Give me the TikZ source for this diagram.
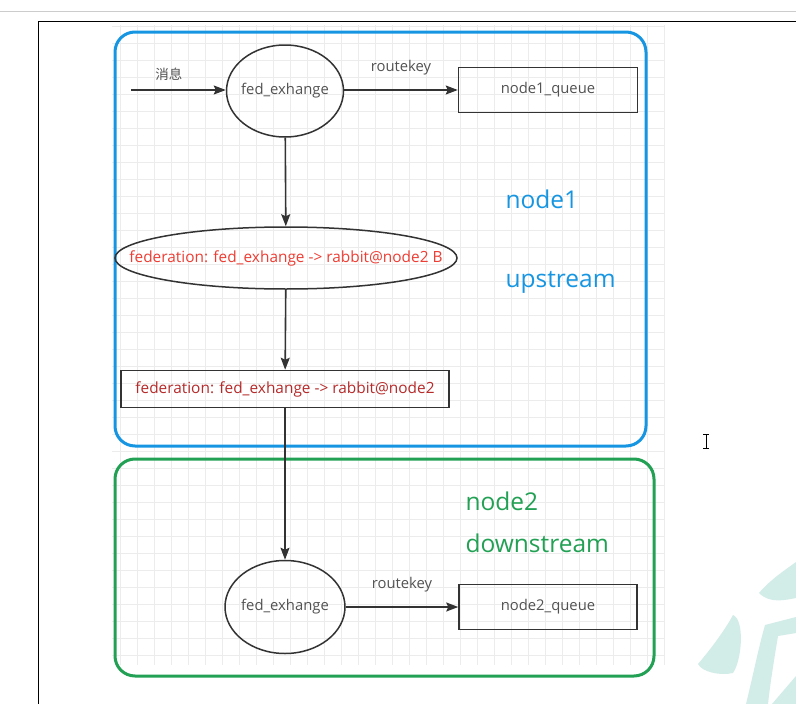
\documentclass[tikz,border=0pt]{standalone}
\usepackage{fontspec}
\setmainfont{Open Sans}
\newfontfamily\cjk{Noto Sans CJK SC}
\usetikzlibrary{arrows.meta,positioning,shapes.geometric}
\definecolor{upblue}{RGB}{22,150,226}
\definecolor{downgreen}{RGB}{34,160,84}
\definecolor{fedred}{RGB}{236,62,52}
\definecolor{linkred}{RGB}{182,42,42}
\definecolor{edgegray}{RGB}{51,51,51}
\definecolor{gridgray}{RGB}{236,236,236}
\definecolor{markteal}{RGB}{210,236,232}

\begin{document}
\begin{tikzpicture}[x=1pt, y=-1pt, every node/.style={font=\fontsize{14.8}{17}\selectfont, text=edgegray!85}]
\useasboundingbox (0,0) rectangle (796,704);
\fill[white] (0,0) rectangle (796,704);
% page frame and grid
\draw[gray!40, line width=1pt] (0,11) -- (796,11);
\draw[black, line width=1pt] (38,704) -- (38,21) -- (796,21);
\foreach \x in {120,137,...,664} \draw[gridgray, line width=0.8pt] (\x,25) -- (\x,665);
\foreach \y in {26,43,...,664} \draw[gridgray, line width=0.8pt] (112,\y) -- (665,\y);
% watermark and cursor
\fill[markteal] (759,593) .. controls (770,580) and (785,570) .. (796,562) -- (796,598) .. controls (785,600) and (770,604) .. (759,593);
\fill[markteal] (733,615) .. controls (745,620) and (742,660) .. (733,673) .. controls (720,676) and (702,672) .. (698,664) .. controls (710,650) and (725,630) .. (733,615);
\fill[markteal] (765,625) -- (796,617) -- (796,633) -- (778,636) .. controls (774,660) and (770,685) .. (768,704) -- (746,704) .. controls (752,680) and (758,650) .. (765,625);
\fill[markteal] (772,704) -- (796,676) -- (796,704) -- cycle;
\draw[black, line width=0.8pt] (706,434) -- (706,448) (703,434) -- (709,434) (703,448) -- (709,448);
% containers
\draw[upblue, line width=3pt, rounded corners=20pt] (115,32) rectangle (646,446);
\draw[downgreen, line width=3pt, rounded corners=20pt] (115,459) rectangle (654,676);
% node1 side
\node[draw=edgegray, line width=1.5pt, ellipse, minimum width=117pt, minimum height=92pt, inner sep=0pt, label=center:fed\_exhange] (ex1) at (285,91) {};
\node[draw=edgegray, line width=1.5pt, minimum width=179pt, minimum height=45pt] (q1) at (548,90) {node1\_queue};
\node[draw=edgegray, line width=1.5pt, ellipse, minimum width=342pt, minimum height=62pt, inner sep=0pt, label={[text=fedred, font=\fontsize{15.4}{18}\selectfont]center:federation: fed\_exhange -> rabbit@node2 B}] (fedex) at (286,258) {};
\node[draw=edgegray, line width=1.5pt, minimum width=328pt, minimum height=37pt, text=linkred, font=\fontsize{15.4}{18}\selectfont] (fedq) at (285,389) {federation: fed\_exhange -> rabbit@node2};
\node[anchor=west, text=upblue, font=\fontsize{24.5}{28}\selectfont] (n1lbl) at (502,199) {node1};
\node[anchor=west, text=upblue, font=\fontsize{24.5}{28}\selectfont] (uplbl) at (502,282) {upstream};
% node2 side
\node[draw=edgegray, line width=1.5pt, ellipse, minimum width=120pt, minimum height=93pt, inner sep=0pt, label=center:fed\_exhange] (ex2) at (285,607) {};
\node[draw=edgegray, line width=1.5pt, minimum width=178pt, minimum height=45pt] (q2) at (548,607) {node2\_queue};
\node[anchor=west, text=downgreen, font=\fontsize{24.5}{28}\selectfont] (n2lbl) at (462,501) {node2};
\node[anchor=west, text=downgreen, font=\fontsize{24.5}{28}\selectfont] (downlbl) at (462,543) {downstream};
% connectors
\coordinate (msgin) at (131,90);
\tikzset{flow/.style={draw=edgegray, line width=1.6pt, -{Stealth[length=12pt, width=9pt, inset=2pt]}}}
\draw[flow] (msgin) -- node[pos=0.4, above=5pt, font=\cjk\fontsize{13.5}{16}\selectfont] (msglbl) {消息} (ex1.west |- msgin);
\draw[flow] (ex1.east |- q1) -- node[above=11pt] (rk1) {routekey} (q1.west);
\draw[flow] (ex1) -- (fedex);
\draw[flow] (fedex) -- (fedq);
\draw[flow] (fedq) -- (ex2);
\draw[flow] (ex2) -- node[above=11pt] (rk2) {routekey} (q2.west);
\end{tikzpicture}
\end{document}
